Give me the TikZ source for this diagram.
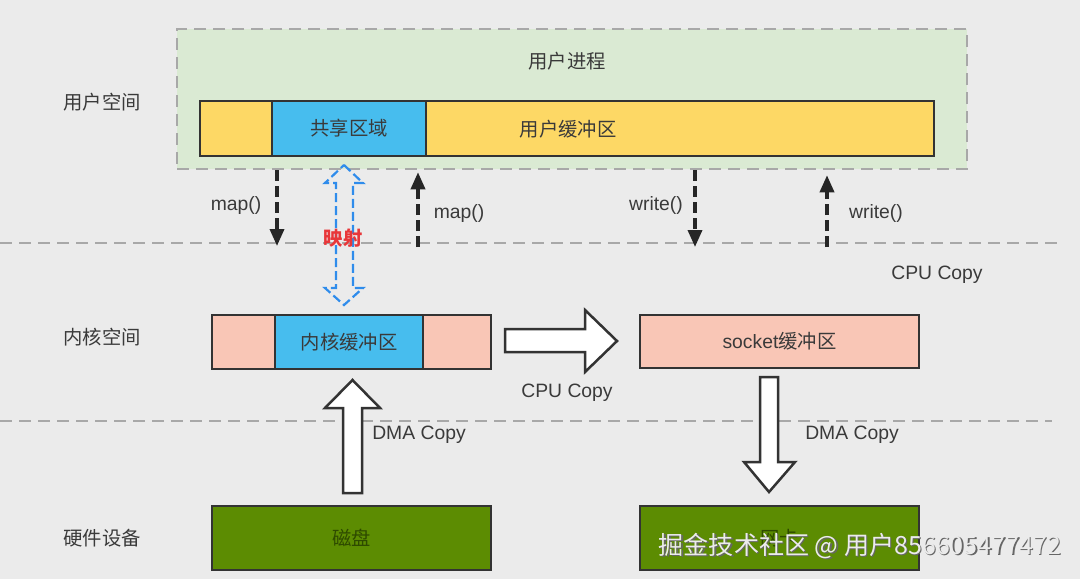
\documentclass[tikz,border=0pt]{standalone}
\usepackage{fontspec}
\setmainfont{Noto Sans CJK SC}
\newfontfamily\latin{Liberation Sans}
\usetikzlibrary{arrows.meta}
\newdimen\px \px=0.75pt
\definecolor{bg}{HTML}{EBEBEB}
\definecolor{txt}{HTML}{3A3A3A}
\definecolor{edge}{HTML}{333333}
\definecolor{sep}{HTML}{A8A8A8}
\definecolor{procfill}{HTML}{DAEAD3}
\definecolor{ubufc}{HTML}{FDD865}
\definecolor{sharec}{HTML}{47BDEE}
\definecolor{kbufc}{HTML}{F9C6B6}
\definecolor{hwc}{HTML}{5C8C02}
\definecolor{hwtxt}{HTML}{2E4A00}
\definecolor{mapc}{HTML}{2F8CEB}
\definecolor{mapred}{HTML}{E8373A}

\begin{document}
\begin{tikzpicture}[x=0.75pt, y=-0.75pt,
    every node/.style={font=\fontsize{14.5}{17}\selectfont, text=txt, inner sep=0pt},
    lbl/.style={font=\fontsize{14.5}{17}\selectfont\latin},
    box/.style={draw=edge, line width=2.5\px},
    sepline/.style={draw=sep, line width=2\px, dash pattern=on 12\px off 7\px},
    callarrow/.style={draw=black!85, line width=3.5\px, dash pattern=on 11\px off 5\px,
      -{Triangle[length=12.75pt,width=10.5pt]}},
    bigarrow/.style={draw=edge, line width=2.5\px, fill=white, line join=miter}]
  \useasboundingbox[fill=bg] (0,0) rectangle (1080,579);

  % layers
  \draw[sepline] (0,243) -- (1060,243);
  \draw[sepline] (0,421) -- (1052,421);
  \node (userspace) at (102,102) {用户空间};
  \node (kernspace) at (102,337) {内核空间};
  \node (hwspace) at (102,538) {硬件设备};

  % user process
  \node[draw=sep, fill=procfill, line width=2.5\px, dash pattern=on 12\px off 7\px,
    minimum width=790\px, minimum height=140\px] (proc) at (572,99) {};
  \node (proctxt) at (567,61) {用户进程};
  \node[box, fill=ubufc, minimum width=734\px, minimum height=55\px] (ubuf) at (567,128.5) {};
  \node[box, fill=sharec, minimum width=154\px, minimum height=55\px] (share) at (349,128.5) {共享区域};
  \node (ubuftxt) at (568,129) {用户缓冲区};

  % kernel
  \node[box, fill=kbufc, minimum width=279\px, minimum height=54\px] (kbar) at (351.5,342) {};
  \node[box, fill=sharec, minimum width=148\px, minimum height=54\px] (kbuf) at (349,342) {内核缓冲区};
  \node[box, fill=kbufc, minimum width=279\px, minimum height=53\px] (sock) at (779.5,341.5) {{\latin socket}缓冲区};

  % hardware
  \node[box, fill=hwc, minimum width=279\px, minimum height=64\px, text=hwtxt] (disk) at (351.5,538) {磁盘};
  \node[box, fill=hwc, minimum width=279\px, minimum height=64\px, text=hwtxt] (nic) at (779.5,538) {网卡};

  % system calls
  \coordinate (mapd) at (277,246);
  \coordinate (mapu) at (418,247);
  \coordinate (wrd) at (695,247);
  \coordinate (wru) at (827,247);
  \draw[callarrow] (proc.south -| mapd) -- (mapd);
  \draw[callarrow] (mapu) -- ([yshift=-2\px]proc.south -| mapu);
  \draw[callarrow] (proc.south -| wrd) -- (wrd);
  \draw[callarrow] (wru) -- ([yshift=-5\px]proc.south -| wru);
  \node[lbl] (mapdtxt) at (236,205) {map()};
  \node[lbl] (maputxt) at (459,213) {map()};
  \node[lbl] (wrdtxt) at (656,205) {write()};
  \node[lbl] (wrutxt) at (876,213) {write()};

  % mapping
  \draw[draw=mapc, line width=2.2\px, dash pattern=on 9\px off 4\px]
    (344,165) -- (363,183) -- (353,183) -- (353,288) -- (363,288) -- (344,305)
    -- (325,288) -- (336,288) -- (336,183) -- (325,183) -- cycle;
  \node[text=mapred, font=\fontsize{14.5}{17}\selectfont\bfseries] (maptxt) at (343,238) {映射};

  % copies
  \draw[bigarrow] (505,329) -- (585,329) -- (585,310) -- (617,341) -- (585,372)
    -- (585,352) -- (505,352) -- cycle;
  \draw[bigarrow] (343,493) -- (343,408) -- (325,408) -- (352.5,380) -- (380,408)
    -- (362,408) -- (362,493) -- cycle;
  \draw[bigarrow] (760,377) -- (778,377) -- (778,462) -- (795,462) -- (769,492)
    -- (744,462) -- (760,462) -- cycle;
  \node[lbl] (cpu1) at (567,393) {CPU Copy};
  \node[lbl] (cpu2) at (937,275) {CPU Copy};
  \node[lbl] (dma1) at (419,435) {DMA Copy};
  \node[lbl] (dma2) at (852,435) {DMA Copy};

  % watermark
  \node[text=black!60, font=\fontsize{18.8}{20}\selectfont] at (861.5,547.5) {掘金技术社区 @ 用户856605477472};
  \node[text=white!92!black, font=\fontsize{18.8}{20}\selectfont] (mark) at (860,546) {掘金技术社区 @ 用户856605477472};
\end{tikzpicture}
\end{document}
